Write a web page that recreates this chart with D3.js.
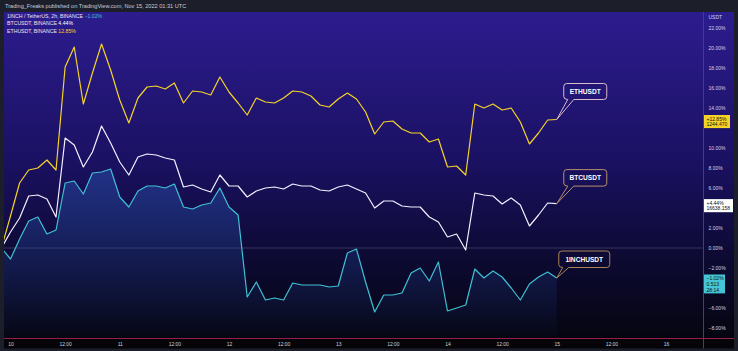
<!DOCTYPE html>
<html>
<head>
<meta charset="utf-8">
<script src="https://cdn.jsdelivr.net/npm/d3@7/dist/d3.min.js"></script>
<style>
  html, body { margin: 0; padding: 0; background: #1c1f2a; }
  svg { display: block; font-family: "Liberation Sans", "DejaVu Sans", sans-serif; }
</style>
</head>
<body>
<div id="chart-area"></div>
<script>
// values, percent change since first bar (2h bars)
var startTime = Date.UTC(2022, 10, 9, 22);
var ethValues = [0, 3.2, 6.5, 7.8, 8.0, 8.8, 7.8, 18.1, 20.1, 14.4, 17.5, 20.4, 17.8, 14.8, 12.5, 15.0,
  16.1, 16.2, 15.9, 16.5, 14.5, 15.7, 15.6, 15.3, 17.1, 15.6, 14.5, 13.3, 15.0, 14.6, 14.5, 15.0,
  15.7, 15.6, 15.2, 14.3, 14.1, 14.9, 15.5, 14.9, 13.6, 11.4, 12.6, 12.7, 11.9, 11.5, 11.5, 10.6,
  10.9, 8.1, 8.2, 7.3, 14.4, 14.0, 14.4, 13.8, 14.0, 12.6, 10.4, 11.5, 12.8, 12.85];
var btcValues = [0, 1.6, 3.0, 5.2, 5.3, 4.9, 3.1, 11.0, 10.3, 8.1, 9.6, 12.2, 10.5, 8.6, 7.3, 9.1,
  9.4, 9.3, 9.0, 8.8, 6.1, 6.3, 5.9, 5.6, 7.3, 6.2, 6.2, 5.1, 5.7, 6.0, 6.1, 5.9,
  6.4, 6.2, 6.2, 5.8, 5.7, 6.1, 6.3, 5.9, 5.5, 4.0, 4.7, 4.7, 4.2, 4.1, 4.1, 3.1,
  2.6, 1.1, 1.4, -0.2, 5.5, 5.3, 5.2, 4.4, 5.0, 4.3, 2.2, 3.3, 4.5, 4.44];
var inchValues = [0, -1.1, 0.9, 2.7, 3.1, 1.4, 1.8, 6.5, 6.7, 5.4, 7.5, 7.6, 7.9, 5.1, 4.1, 5.7,
  6.2, 6.2, 6.0, 6.4, 4.1, 3.9, 4.3, 4.5, 6.0, 4.1, 3.3, -4.9, -3.4, -5.2, -5.0, -5.2,
  -3.5, -3.7, -3.7, -3.7, -3.9, -3.8, -0.5, -0.1, -3.4, -6.4, -4.7, -4.7, -4.5, -2.5, -2.0, -3.3,
  -1.4, -6.3, -6.0, -5.7, -2.1, -3.0, -2.3, -2.9, -4.0, -5.2, -3.6, -2.9, -2.4, -3.0];

// 12%, 4% and -4% sit under the price badges
var yTicks = [-8, -6, -2, 0, 2, 6, 8, 10, 14, 16, 18, 20, 22];
var xTickDates = [10, 10.5, 11, 11.5, 12, 12.5, 13, 13.5, 14, 14.5, 15, 15.5, 16];
var xTickLabels = ["10", "12:00", "11", "12:00", "12", "12:00", "13", "12:00", "14", "12:00", "15", "12:00", "16"];

var legendRows = [
  {name: "1INCH / TetherUS, 2h, BINANCE", value: "\u22121.02%", color: "#3fc1d3"},
  {name: "BTCUSDT, BINANCE", value: "4.44%", color: "#ffffff"},
  {name: "ETHUSDT, BINANCE", value: "12.85%", color: "#f5d327"}
];

var series = [
  {name: "ETHUSDT", values: ethValues, color: "#f5d327", border: "#d9b9cc", badge: ["+12.85%", "1244.470"], badgeFill: "#f5d327"},
  {name: "BTCUSDT", values: btcValues, color: "#f4f0ff", border: "#b48e6c", badge: ["+4.44%", "16638.158"], badgeFill: "#ffffff"},
  {name: "1INCHUSDT", values: inchValues, color: "#3fc1d3", border: "#a88458", badge: ["\u22121.02%", "0.513", "28:14"], badgeFill: "#45c6d8"}
];

var W = 738, H = 351;
var plotLeft = 4, plotRight = 703.5, plotTop = 12, plotBottom = 338.5, frameRight = 734;

var svg = d3.select("#chart-area").append("svg")
  .attr("width", W)
  .attr("height", H);

var defs = svg.append("defs");
var bg = defs.append("linearGradient").attr("id", "bg")
  .attr("x1", 0).attr("y1", 0).attr("x2", 0).attr("y2", 1);
bg.append("stop").attr("offset", "0%").attr("stop-color", "#2c1c8e");
bg.append("stop").attr("offset", "45%").attr("stop-color", "#1b1163");
bg.append("stop").attr("offset", "75%").attr("stop-color", "#0d0a33");
bg.append("stop").attr("offset", "100%").attr("stop-color", "#050510");

var areaGrad = defs.append("linearGradient").attr("id", "areaGrad")
  .attr("gradientUnits", "userSpaceOnUse")
  .attr("x1", 0).attr("y1", 170).attr("x2", 0).attr("y2", plotBottom);
areaGrad.append("stop").attr("offset", "0%").attr("stop-color", "#2a5ab8").attr("stop-opacity", 0.45);
areaGrad.append("stop").attr("offset", "100%").attr("stop-color", "#2a5ab8").attr("stop-opacity", 0.02);

defs.append("clipPath").attr("id", "plotClip").append("rect")
  .attr("x", plotLeft).attr("y", plotTop)
  .attr("width", plotRight - plotLeft).attr("height", plotBottom - plotTop);

// frame + panels
svg.append("rect").attr("width", W).attr("height", H).attr("fill", "#1c1f2a");
svg.append("rect")
  .attr("x", plotLeft).attr("y", plotTop)
  .attr("width", frameRight - plotLeft).attr("height", plotBottom - plotTop)
  .attr("fill", "url(#bg)");
svg.append("rect")
  .attr("x", plotLeft).attr("y", plotBottom)
  .attr("width", frameRight - plotLeft).attr("height", 10)
  .attr("fill", "#050509");

svg.append("text")
  .attr("x", 5).attr("y", 8)
  .attr("font-size", "5.6px")
  .attr("fill", "#c9ccd6")
  .text("Trading_Freaks published on TradingView.com, Nov 15, 2022 01:31 UTC");

var x = d3.scaleUtc()
  .domain([new Date(Date.UTC(2022, 10, 10)), new Date(Date.UTC(2022, 10, 16))])
  .range([10.5, 666]);
var y = d3.scaleLinear().domain([-8, 22]).range([328, 28]);

function timeAt(i) { return new Date(startTime + i * 2 * 3600 * 1000); }

// zero line
svg.append("line")
  .attr("x1", plotLeft).attr("x2", plotRight)
  .attr("y1", y(0)).attr("y2", y(0))
  .attr("stroke", "#4a4470").attr("stroke-width", 1).attr("opacity", 0.7);

var plot = svg.append("g").attr("clip-path", "url(#plotClip)");

var area = d3.area()
  .x(function(d, i) { return x(timeAt(i)); })
  .y0(plotBottom)
  .y1(function(d) { return y(d); });

plot.append("path")
  .datum(inchValues)
  .attr("d", area)
  .attr("fill", "url(#areaGrad)");

var line = d3.line()
  .x(function(d, i) { return x(timeAt(i)); })
  .y(function(d) { return y(d); });

series.forEach(function(s) {
  plot.append("path")
    .datum(s.values)
    .attr("d", line)
    .attr("fill", "none")
    .attr("stroke", s.color)
    .attr("stroke-width", 1.2)
    .attr("stroke-linejoin", "round");
});

// axis lines
svg.append("line")
  .attr("x1", plotRight).attr("x2", plotRight)
  .attr("y1", plotTop).attr("y2", plotBottom + 10)
  .attr("stroke", "#9a1c48").attr("stroke-width", 1);
svg.append("line")
  .attr("x1", plotLeft).attr("x2", frameRight)
  .attr("y1", plotBottom).attr("y2", plotBottom)
  .attr("stroke", "#9a1c48").attr("stroke-width", 1);

// right axis
var yAxisCall = d3.axisRight(y)
  .tickValues(yTicks)
  .tickSize(0)
  .tickPadding(0)
  .tickFormat(function(d) { return (d < 0 ? "\u2212" : "") + Math.abs(d).toFixed(2) + "%"; });

var yAxisGroup = svg.append("g")
  .attr("transform", "translate(" + (plotRight + 5) + ",0)")
  .call(yAxisCall);
yAxisGroup.select(".domain").remove();
yAxisGroup.selectAll("text").attr("font-size", "5px").attr("fill", "#d6d3e6");

svg.append("text")
  .attr("x", plotRight + 5).attr("y", 19)
  .attr("font-size", "5px").attr("fill", "#d6d3e6")
  .text("USDT");

// bottom axis
var xAxisCall = d3.axisBottom(x)
  .tickValues(xTickDates.map(function(d) { return new Date(Date.UTC(2022, 10, 0) + d * 86400000); }))
  .tickSize(0)
  .tickPadding(0)
  .tickFormat(function(d, i) { return xTickLabels[i]; });

var xAxisGroup = svg.append("g")
  .attr("transform", "translate(0," + (plotBottom + 4) + ")")
  .call(xAxisCall);
xAxisGroup.select(".domain").remove();
xAxisGroup.selectAll("text").attr("font-size", "5px").attr("fill", "#cfcfd8");

// legend
legendRows.forEach(function(r, i) {
  var t = svg.append("text")
    .attr("x", 7).attr("y", 18 + i * 7.3)
    .attr("font-size", "5.2px")
    .attr("fill", "#e8e6f4");
  t.append("tspan").text(r.name + "  ");
  t.append("tspan").attr("fill", r.color).text(r.value);
});

// callouts
var callouts = [
  {dx: 7, dy: -36, w: 43, h: 16},
  {dx: 7, dy: -34, w: 43, h: 16.5},
  {dx: 2, dy: -27, w: 51, h: 16.5}
];

series.forEach(function(s, k) {
  var last = s.values.length - 1;
  var tx = x(timeAt(last)), ty = y(s.values[last]);
  var c = callouts[k];
  var bx = tx + c.dx, by = ty + c.dy, bw = c.w, bh = c.h, r = 3;
  var p = "M" + (bx + r) + "," + by +
    " H" + (bx + bw - r) + " Q" + (bx + bw) + "," + by + " " + (bx + bw) + "," + (by + r) +
    " V" + (by + bh - r) + " Q" + (bx + bw) + "," + (by + bh) + " " + (bx + bw - r) + "," + (by + bh) +
    " H" + (bx + 10) + " L" + tx + "," + ty + " L" + (bx + 4) + "," + (by + bh) +
    " Q" + bx + "," + (by + bh) + " " + bx + "," + (by + bh - r) +
    " V" + (by + r) + " Q" + bx + "," + by + " " + (bx + r) + "," + by + " Z";
  svg.append("path")
    .attr("d", p)
    .attr("fill", "none")
    .attr("stroke", s.border)
    .attr("stroke-width", 1);
  svg.append("text")
    .attr("x", bx + bw / 2).attr("y", by + bh / 2 + 2.4)
    .attr("text-anchor", "middle")
    .attr("font-size", "6.6px")
    .attr("font-weight", "bold")
    .attr("fill", "#ffffff")
    .text(s.name);

  // price badge on right axis
  var lines = s.badge;
  var bHeight = lines.length * 5.8 + 1.5;
  var badgeTop = ty - 4.5;
  if (k === 2) badgeTop = ty - 3.5;
  var bWidth = k === 1 ? 29 : (k === 0 ? 26 : 21);
  svg.append("rect")
    .attr("x", plotRight + 0.5).attr("y", badgeTop)
    .attr("width", bWidth).attr("height", bHeight)
    .attr("fill", s.badgeFill);
  lines.forEach(function(l, j) {
    svg.append("text")
      .attr("x", plotRight + 3).attr("y", badgeTop + 5.5 + j * 5.8)
      .attr("font-size", "5px")
      .attr("fill", "#111111")
      .text(l);
  });
});
</script>
</body>
</html>
